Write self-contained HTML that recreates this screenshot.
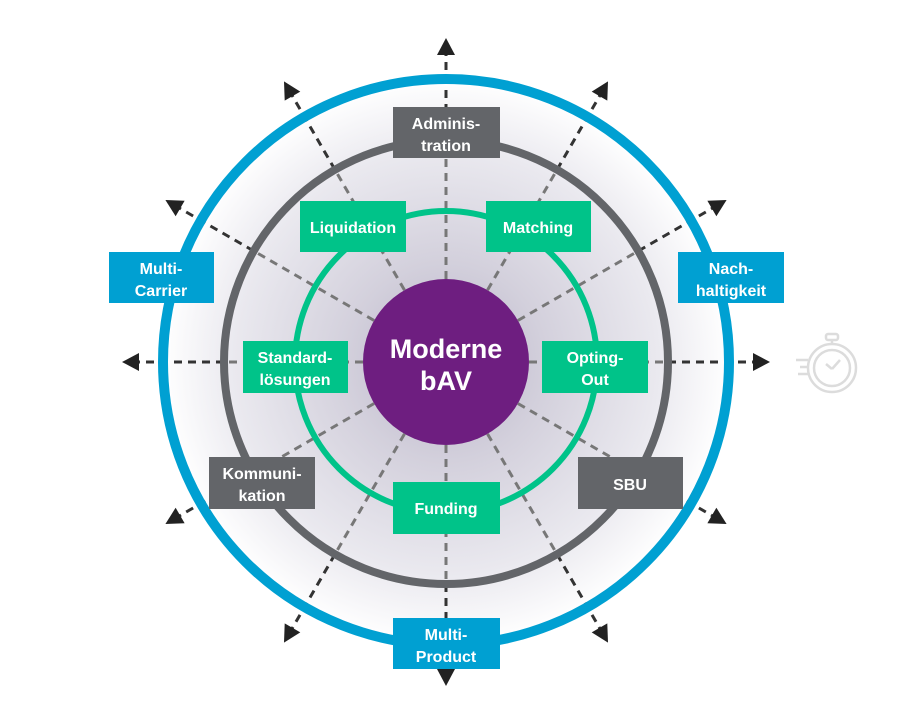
<!DOCTYPE html>
<html><head><meta charset="utf-8"><style>
html,body{margin:0;padding:0;background:#fff;}
svg{display:block;}
text{font-family:"Liberation Sans",sans-serif;font-weight:bold;fill:#fff;text-anchor:middle;}
</style></head><body>
<svg width="900" height="702" viewBox="0 0 900 702" xmlns="http://www.w3.org/2000/svg">
<defs>
<radialGradient id="bg" cx="446" cy="362" r="283" gradientUnits="userSpaceOnUse">
<stop offset="0" stop-color="#b9b4c8"/>
<stop offset="0.35" stop-color="#d3d0dc"/>
<stop offset="0.75" stop-color="#eae9ef"/>
<stop offset="1" stop-color="#ffffff"/>
</radialGradient>
<g id="ray">
<line x1="529" y1="362" x2="668" y2="362" stroke="#777" stroke-width="3" stroke-dasharray="8,6"/>
<line x1="668" y1="362" x2="755" y2="362" stroke="#333" stroke-width="3" stroke-dasharray="8,6"/>
<polygon points="770,362 753,353 753,371" fill="#222"/>
</g>
</defs>
<circle cx="446" cy="362" r="283" fill="url(#bg)"/>
<use href="#ray" transform="rotate(0 446 362)"/>
<use href="#ray" transform="rotate(30 446 362)"/>
<use href="#ray" transform="rotate(60 446 362)"/>
<use href="#ray" transform="rotate(90 446 362)"/>
<use href="#ray" transform="rotate(120 446 362)"/>
<use href="#ray" transform="rotate(150 446 362)"/>
<use href="#ray" transform="rotate(180 446 362)"/>
<use href="#ray" transform="rotate(210 446 362)"/>
<use href="#ray" transform="rotate(240 446 362)"/>
<use href="#ray" transform="rotate(270 446 362)"/>
<use href="#ray" transform="rotate(300 446 362)"/>
<use href="#ray" transform="rotate(330 446 362)"/>
<circle cx="446" cy="362" r="283" fill="none" stroke="#00a0d2" stroke-width="10"/>
<circle cx="446" cy="362" r="222" fill="none" stroke="#636569" stroke-width="8"/>
<circle cx="446" cy="362" r="151" fill="none" stroke="#00c389" stroke-width="6"/>
<circle cx="446" cy="362" r="83" fill="#6e1e80"/>
<text x="446" y="358" font-size="27">Moderne</text>
<text x="446" y="390" font-size="27">bAV</text>

<g font-size="16">
<rect x="393" y="107" width="107" height="51" fill="#636569"/>
<text x="446" y="129">Adminis-</text><text x="446" y="151">tration</text>
<rect x="300" y="201" width="106" height="51" fill="#00c389"/>
<text x="353" y="233">Liquidation</text>
<rect x="486" y="201" width="105" height="51" fill="#00c389"/>
<text x="538" y="233">Matching</text>
<rect x="109" y="252" width="105" height="51" fill="#00a0d2"/>
<text x="161" y="274">Multi-</text><text x="161" y="296">Carrier</text>
<rect x="678" y="252" width="106" height="51" fill="#00a0d2"/>
<text x="731" y="274">Nach-</text><text x="731" y="296">haltigkeit</text>
<rect x="243" y="341" width="105" height="52" fill="#00c389"/>
<text x="295" y="363">Standard-</text><text x="295" y="385">lösungen</text>
<rect x="542" y="341" width="106" height="52" fill="#00c389"/>
<text x="595" y="363">Opting-</text><text x="595" y="385">Out</text>
<rect x="209" y="457" width="106" height="52" fill="#636569"/>
<text x="262" y="479">Kommuni-</text><text x="262" y="501">kation</text>
<rect x="578" y="457" width="105" height="52" fill="#636569"/>
<text x="630" y="490">SBU</text>
<rect x="393" y="482" width="107" height="52" fill="#00c389"/>
<text x="446" y="514">Funding</text>
<rect x="393" y="618" width="107" height="51" fill="#00a0d2"/>
<text x="446" y="640">Multi-</text><text x="446" y="662">Product</text>
</g>

<g fill="none" stroke="#dcdcdc" stroke-width="2.5">
<circle cx="832" cy="368" r="24"/>
<circle cx="832" cy="368" r="18"/>
<rect x="826" y="334" width="12" height="6" rx="2"/>
<line x1="832" y1="340" x2="832" y2="344"/>
<line x1="832" y1="369" x2="840" y2="360"/>
<line x1="832" y1="369" x2="826" y2="364"/>
<line x1="796" y1="360" x2="808" y2="360"/>
<line x1="800" y1="367" x2="808" y2="367"/>
<line x1="798" y1="374" x2="809" y2="374"/>
</g>
</svg>
</body></html>
